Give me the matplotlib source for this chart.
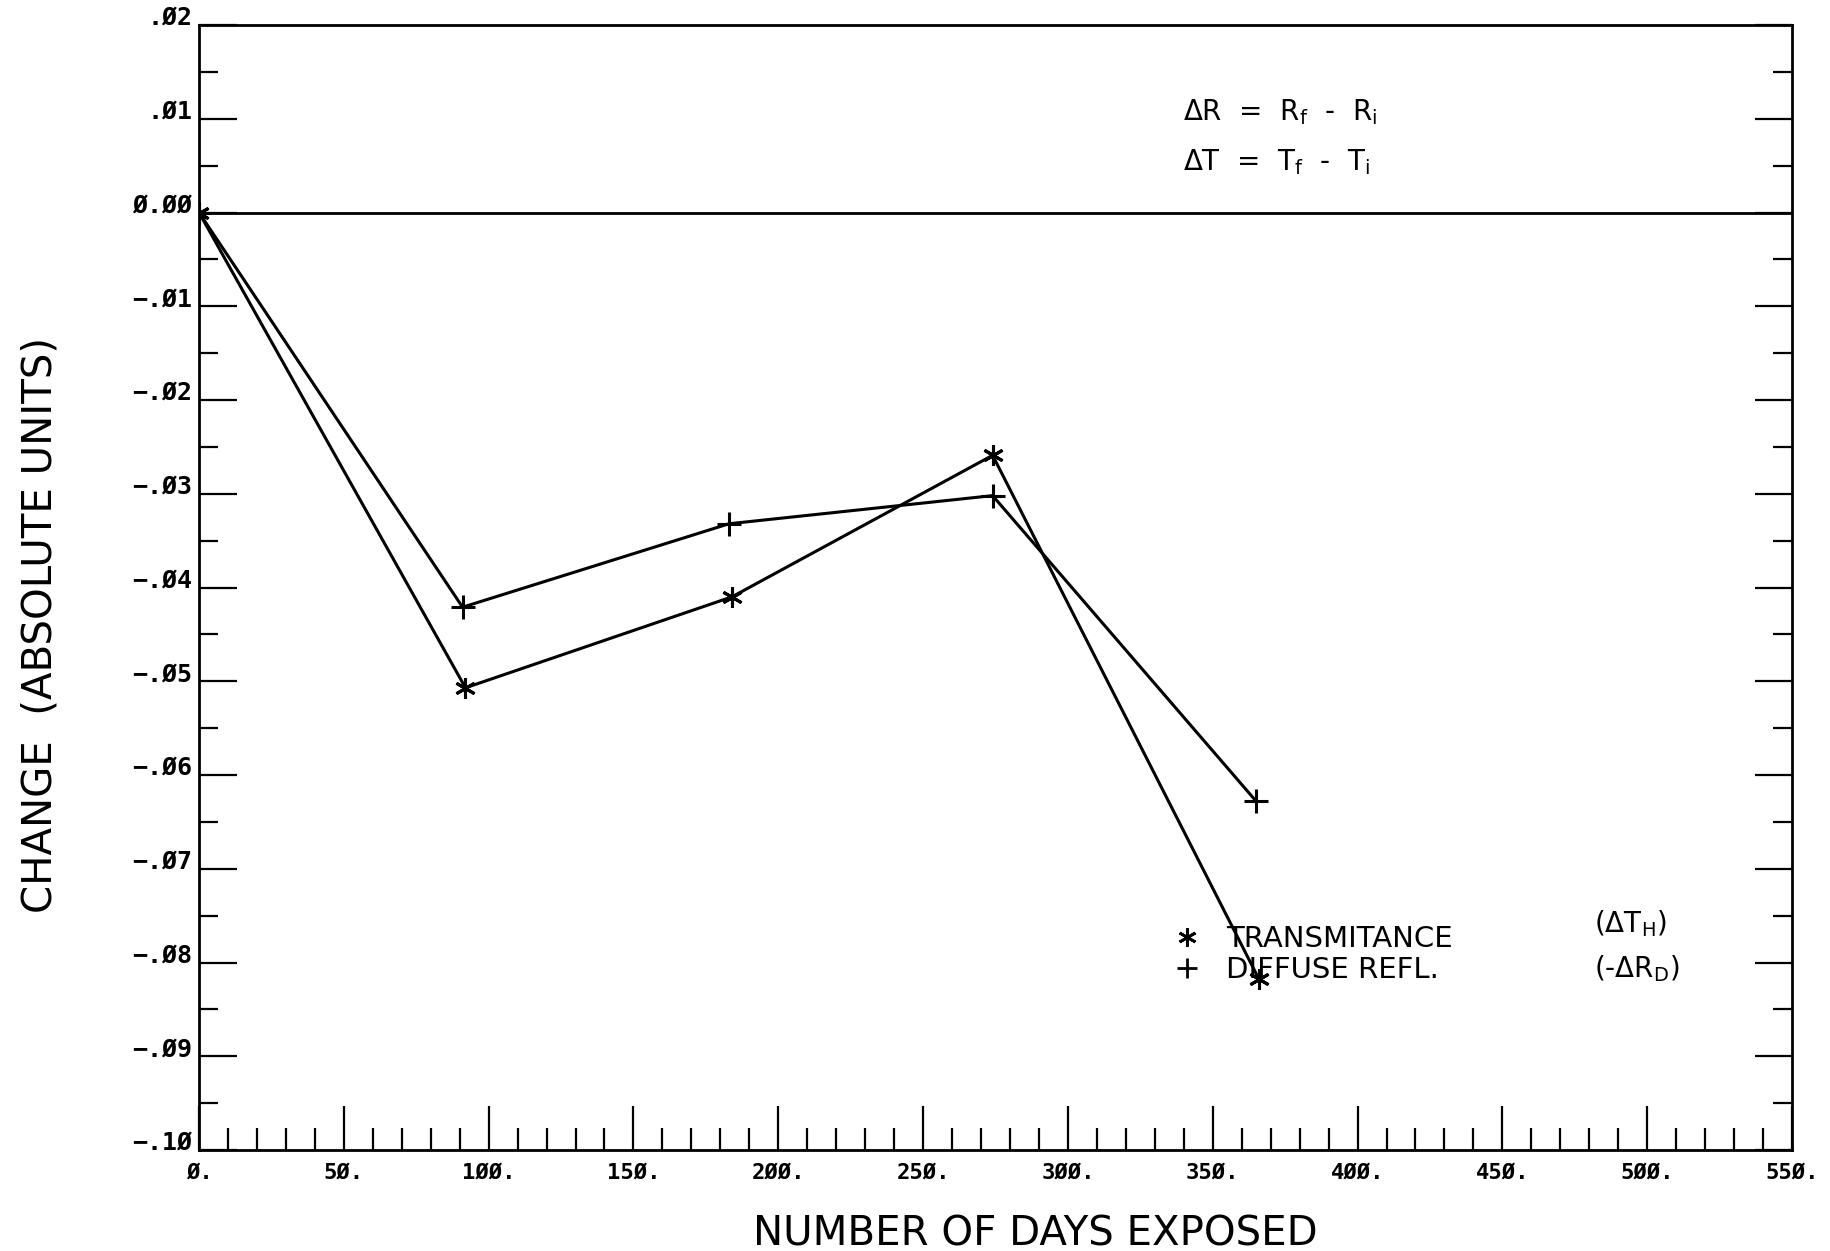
import numpy as np
import matplotlib
matplotlib.use("Agg")
import matplotlib.pyplot as plt
from matplotlib.lines import Line2D

# Measured changes after outdoor exposure
days_transmittance = [0, 92, 184, 274, 366]
transmittance = [0.0, -0.0507, -0.0410, -0.0259, -0.0818]

days_diffuse = [0, 91, 183, 274, 365]
diffuse_refl = [0.0, -0.0421, -0.0332, -0.0302, -0.0628]

x_ticks = [0, 50, 100, 150, 200, 250, 300, 350, 400, 450, 500, 550]
x_tick_labels = ["Ø.", "5Ø.", "1ØØ.", "15Ø.", "2ØØ.", "25Ø.", "3ØØ.",
                 "35Ø.", "4ØØ.", "45Ø.", "5ØØ.", "55Ø."]
y_ticks = [0.02, 0.01, 0.0, -0.01, -0.02, -0.03, -0.04, -0.05, -0.06,
           -0.07, -0.08, -0.09, -0.10]
y_tick_labels = [".Ø2", ".Ø1", "Ø.ØØ", "−.Ø1", "−.Ø2", "−.Ø3", "−.Ø4", "−.Ø5",
                 "−.Ø6", "−.Ø7", "−.Ø8", "−.Ø9", "−.1Ø"]

series_labels = ["TRANSMITANCE", "DIFFUSE REFL."]
series_symbols = [r"($\Delta$T$_\mathregular{H}$)", r"(-$\Delta$R$_\mathregular{D}$)"]

W, H = 1831, 1251
fig = plt.figure(figsize=(W / 100, H / 100), dpi=100)
fig.patch.set_facecolor("white")

left, right, top, bottom = 199, 1792, 25, 1150
ax = fig.add_axes([left / W, 1 - bottom / H, (right - left) / W, (bottom - top) / H])
ax.set_xlim(0, 550)
ax.set_ylim(-0.10, 0.02)

for sp in ax.spines.values():
    sp.set_linewidth(2.0)
    sp.set_color("black")

ax.set_xticks(x_ticks, x_tick_labels, family="DejaVu Sans Mono", weight="bold", size=16)
ax.set_xticks(np.arange(0, 551, 10), minor=True)
ax.set_yticks(y_ticks, y_tick_labels, family="DejaVu Sans Mono", weight="bold", size=18)
ax.set_yticks(np.arange(-0.10, 0.0201, 0.005), minor=True)

ax.tick_params(axis="x", which="major", direction="in", length=32, width=1.6,
               top=False, bottom=True, pad=9)
ax.tick_params(axis="x", which="minor", direction="in", length=16, width=1.6,
               top=False, bottom=True)
ax.tick_params(axis="y", which="major", direction="in", length=27, width=1.6,
               left=True, right=True, pad=5)
ax.tick_params(axis="y", which="minor", direction="in", length=14, width=1.6,
               left=True, right=True)
for lab in ax.get_yticklabels():
    lab.set_verticalalignment("baseline")

# Zero reference line
ax.axhline(0.0, color="black", lw=2.0)

ax.plot(days_transmittance, transmittance, color="black", lw=2.2,
        marker=(6, 2, 0), ms=15, mew=2.2)
ax.plot(days_diffuse, diffuse_refl, color="black", lw=2.2,
        marker="+", ms=17, mew=2.2)

# Definitions of the plotted differences
eq_font = dict(family="DejaVu Sans", size=20, color="black")
ax.text(0.6177, 0.9156, r"$\Delta$R  =  R$_\mathregular{f}$  -  R$_\mathregular{i}$",
        transform=ax.transAxes, ha="left", va="baseline", **eq_font)
ax.text(0.6177, 0.871, r"$\Delta$T  =  T$_\mathregular{f}$  -  T$_\mathregular{i}$",
        transform=ax.transAxes, ha="left", va="baseline", **eq_font)

# Legend: symbols and names
handles = [
    Line2D([], [], color="black", linestyle="None", marker=(6, 2, 0), ms=13, mew=2.0),
    Line2D([], [], color="black", linestyle="None", marker="+", ms=15, mew=2.0),
]
ax.legend(handles, series_labels, loc="upper left", bbox_to_anchor=(0.6111, 0.2),
          frameon=False, borderpad=0, borderaxespad=0, handlelength=1.0,
          handletextpad=0.84, labelspacing=0.12, numpoints=1,
          prop=dict(family="DejaVu Sans", size=21))

sym_font = dict(family="DejaVu Sans", size=20, color="black")
ax.text(0.876, 0.1938, series_symbols[0], transform=ax.transAxes,
        ha="left", va="baseline", **sym_font)
ax.text(0.876, 0.1538, series_symbols[1], transform=ax.transAxes,
        ha="left", va="baseline", **sym_font)

label_font = dict(family="DejaVu Sans", size=29, color="black")
fig.text(1035 / W, 1 - 1234 / H, "NUMBER OF DAYS EXPOSED",
         ha="center", va="center", **label_font)
fig.text(41 / W, 1 - 625 / H, "CHANGE  (ABSOLUTE UNITS)",
         ha="center", va="center", rotation=90, **label_font)

fig.savefig("out.png", dpi=100, facecolor="white")
